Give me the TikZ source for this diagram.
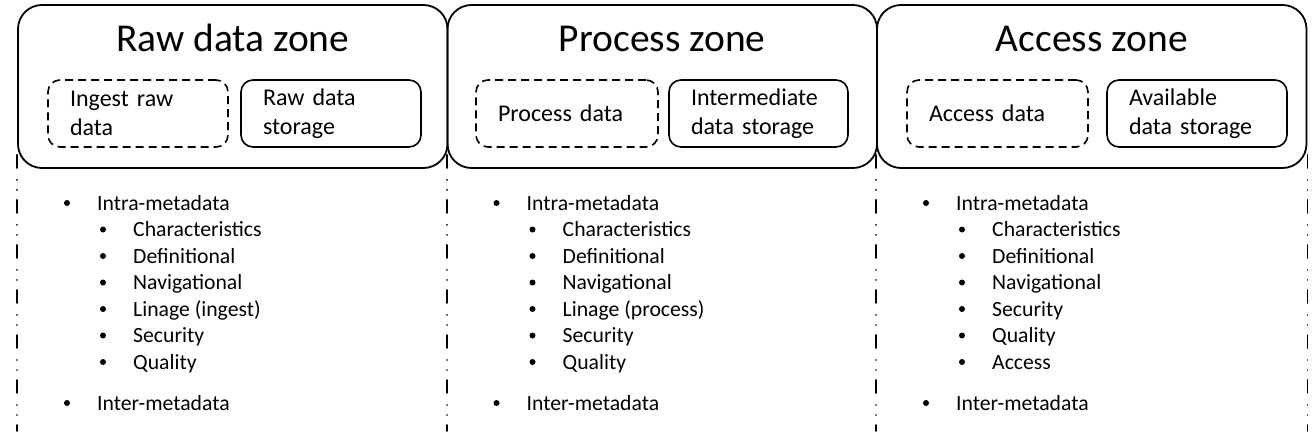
\documentclass[tikz,border=0pt]{standalone}
\usepackage{fontspec}
\setmainfont{Carlito}

\begin{document}
\begin{tikzpicture}[x=1pt, y=-1pt,
    zone/.style={draw, line width=1.8pt, rounded corners=24pt, minimum width=429.5pt, minimum height=163pt, inner sep=0pt},
    zonetitle/.style={anchor=base, inner sep=0pt, font=\fontsize{39.5}{44}\selectfont},
    task/.style={draw, line width=1.6pt, rounded corners=12pt, minimum height=67pt, inner xsep=22pt, align=left, font=\fontsize{24}{29}\selectfont},
    taskdash/.style={task, dash pattern=on 8pt off 5pt},
    item/.style={anchor=base west, inner sep=0pt, font=\fontsize{21.7}{26}\selectfont},
    sepline/.style={line width=1.8pt, line cap=round, dash pattern=on 13pt off 12pt on 0.01pt off 10pt on 0.01pt off 10pt}]
\useasboundingbox (0,0) rectangle (1316,431);
\coordinate (bot) at (0,431);

% raw data zone
\begin{scope}
\node[zone] (raw) at (232.75,86.5) {};
\node[zonetitle] (raw-title) at (232.75,51) {Raw data zone};
\node[taskdash, text width=136pt] (raw-ingest) at (138,113.5) {Ingest raw\\data};
\node[task, text width=136pt] (raw-store) at (331,113.5) {Raw data\\storage};
\node[item] (raw-intra) at (97,210) {Intra-metadata};
\fill (67,203) circle (3);
\foreach \txt [count=\i] in {Characteristics, Definitional, Navigational, Linage (ingest), Security, Quality}{
  \node[item] (raw-sub\i) at (133,{210+26.5*\i}) {\txt};
  \fill (103,{203+26.5*\i}) circle (3);
}
\node[item] (raw-inter) at (97,410) {Inter-metadata};
\fill (67,403) circle (3);
\end{scope}

% process zone
\begin{scope}[xshift=429.5pt]
\node[zone] (proc) at (232.75,86.5) {};
\node[zonetitle] (proc-title) at (232.75,51) {Process zone};
\node[taskdash, text width=138pt] (proc-data) at (137.5,113.5) {Process data};
\node[task, text width=135pt] (proc-store) at (329,113.5) {Intermediate\\data storage};
\node[item] (proc-intra) at (97,210) {Intra-metadata};
\fill (67,203) circle (3);
\foreach \txt [count=\i] in {Characteristics, Definitional, Navigational, Linage (process), Security, Quality}{
  \node[item] (proc-sub\i) at (133,{210+26.5*\i}) {\txt};
  \fill (103,{203+26.5*\i}) circle (3);
}
\node[item] (proc-inter) at (97,410) {Inter-metadata};
\fill (67,403) circle (3);
\end{scope}

% access zone
\begin{scope}[xshift=859pt]
\node[zone] (acc) at (232.75,86.5) {};
\node[zonetitle] (acc-title) at (232.75,51) {Access zone};
\node[taskdash, text width=137pt] (acc-data) at (138.5,113.5) {Access data};
\node[task, text width=136pt] (acc-store) at (338,113.5) {Available\\data storage};
\node[item] (acc-intra) at (97,210) {Intra-metadata};
\fill (67,203) circle (3);
\foreach \txt [count=\i] in {Characteristics, Definitional, Navigational, Security, Quality, Access}{
  \node[item] (acc-sub\i) at (133,{210+26.5*\i}) {\txt};
  \fill (103,{203+26.5*\i}) circle (3);
}
\node[item] (acc-inter) at (97,410) {Inter-metadata};
\fill (67,403) circle (3);
\end{scope}

% zone borders below the boxes
\draw[sepline] ([yshift=14pt]raw.south west) -- (raw.south west |- bot);
\draw[sepline] ([yshift=14pt]proc.south west) -- (proc.south west |- bot);
\draw[sepline] ([yshift=14pt]acc.south west) -- (acc.south west |- bot);
\draw[sepline] ([yshift=14pt]acc.south east) -- (acc.south east |- bot);

\end{tikzpicture}
\end{document}
